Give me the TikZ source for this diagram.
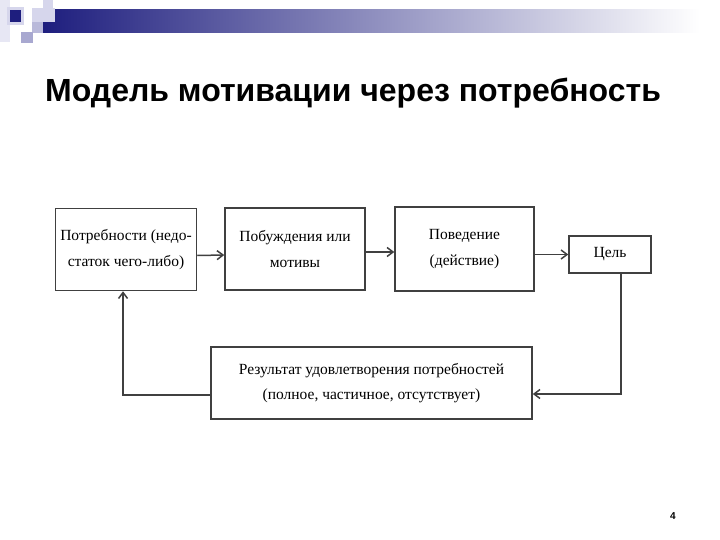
\documentclass[tikz,border=0pt]{standalone}
\usepackage{fontspec}
\setmainfont{Liberation Serif}
\newfontfamily\titlefont{Liberation Sans}
\usetikzlibrary{arrows.meta}
\definecolor{navy}{HTML}{1E1E7E}
\definecolor{lav}{HTML}{A8A8D0}
\definecolor{lightlav}{HTML}{D6D6EC}
\definecolor{linegray}{HTML}{404040}
\tikzset{
  box/.style={draw=linegray, line width=1.5pt, fill=white, inner sep=2pt, align=center,
    font=\fontsize{15.5}{25.5}\selectfont, text=black},
  arr/.style={draw=linegray, line width=1.5pt, -{Straight Barb[length=6pt,width=9pt]}}
}
\begin{document}
\begin{tikzpicture}[x=1pt,y=-1pt]
\useasboundingbox (0,0) rectangle (720,540);
% header decoration
\fill[lightlav!60] (0,0) rectangle (10,42);
\shade[left color=navy, middle color=lav, right color=white] (43,10) rectangle (700,33);
\fill[lightlav] (43,0) rectangle (53,9);
\fill[lightlav] (32,8) rectangle (55,22);
\fill[lav!80] (32,22) rectangle (43,33);
\fill[lightlav] (7,7) rectangle (24,25);
\fill[navy] (10,10) rectangle (21,22);
\fill[lav] (21,32) rectangle (33,43);
% title
\node[anchor=base west, font=\titlefont\bfseries\fontsize{32}{34}\selectfont, inner sep=0pt] (title) at (45,102) {Модель мотивации через потребность};
% boxes
\node[box, minimum width=141pt, minimum height=82pt] (b1) at (126,249.5) {Потребности (недо-\\статок чего-либо)};
\node[box, minimum width=140pt, minimum height=82pt] (b2) at (295,249) {Побуждения или\\мотивы};
\node[box, minimum width=139pt, minimum height=84pt] (b3) at (464.5,249) {Поведение\\(действие)};
\node[box, minimum width=82pt, minimum height=37pt] (b4) at (610,254.5) {Цель};
\node[box, minimum width=321pt, minimum height=72pt] (b5) at (371.5,383) {Результат удовлетворения потребностей\\(полное, частичное, отсутствует)};
% connectors
\draw[arr] ([yshift=-6pt]b1.east) -- ([yshift=-6pt]b2.west);
\draw[arr] ([yshift=-3pt]b2.east) -- ([yshift=-3pt]b3.west);
\draw[arr] (b3.east |- b4.west) -- (b4.west);
\draw[arr] ([xshift=11pt]b4.south) |- ([yshift=-11pt]b5.east);
\draw[arr] ([yshift=-12pt]b5.west) -| ([xshift=-3pt]b1.south);
% page number
\node[font=\titlefont\bfseries\fontsize{10}{12}\selectfont, inner sep=0pt] (pg) at (673,516) {4};
\end{tikzpicture}
\end{document}
